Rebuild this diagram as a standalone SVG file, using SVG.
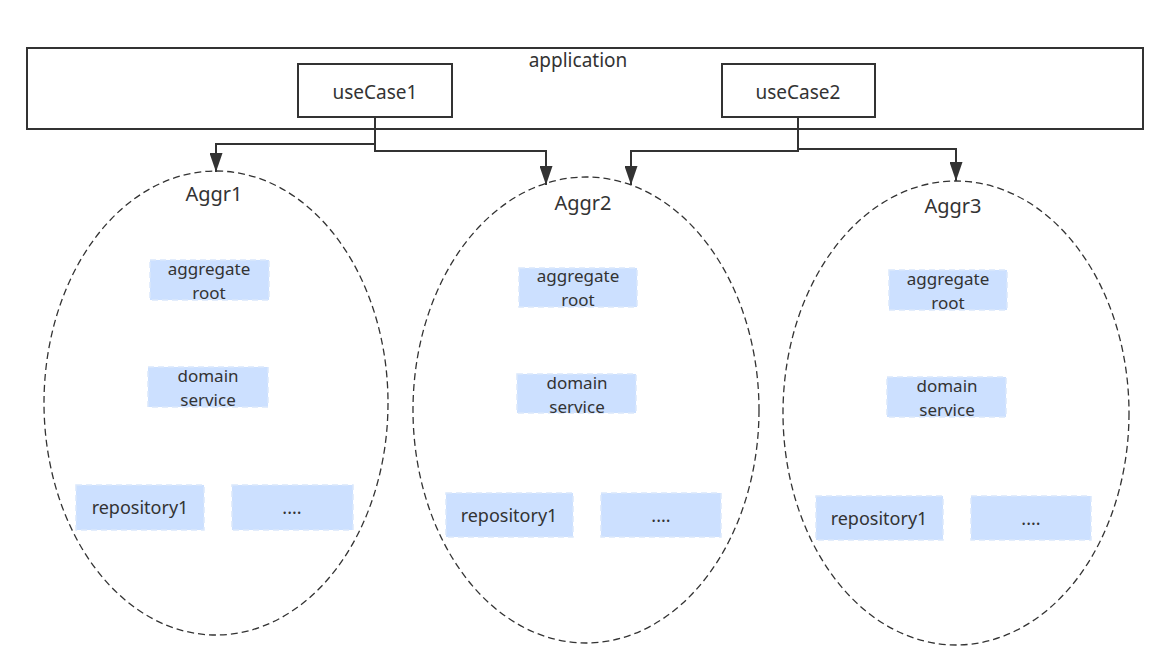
<svg xmlns="http://www.w3.org/2000/svg" width="1171" height="672" viewBox="0 0 1171 672">
<style>
  text { font-family: "Noto Sans", "Open Sans", sans-serif; fill: #333333; text-anchor: middle; }
  .frame { fill: #ffffff; stroke: #333333; stroke-width: 2; }
  .agg { fill: none; stroke: #333333; stroke-width: 1.3; stroke-dasharray: 7 4; }
  .box { fill: #cce0ff; stroke: #dae8fc; stroke-width: 1.5; stroke-dasharray: 6 4; }
  .lbl { font-size: 19px; }
  .alb { font-size: 20px; }
  .bt { font-size: 18px; }
  .bt2 { font-size: 17px; }
  .conn { fill: none; stroke: #333333; stroke-width: 2; }
</style>
<defs>
  <marker id="arr" markerUnits="userSpaceOnUse" viewBox="0 0 19 13" markerWidth="19" markerHeight="13" refX="19" refY="6.5" orient="auto">
    <polygon points="0,0 19,6.5 0,13" fill="#333333"/>
  </marker>
</defs>
<rect width="1171" height="672" fill="#ffffff"/>

<g id="application">
  <rect class="frame" x="27" y="48" width="1116" height="81"/>
  <text class="lbl" x="578" y="67">application</text>
</g>
<g id="useCase1">
  <rect class="frame" x="298" y="64" width="154" height="53"/>
  <text class="lbl" x="375" y="99">useCase1</text>
</g>
<g id="useCase2">
  <rect class="frame" x="722" y="64" width="153" height="53"/>
  <text class="lbl" x="798" y="99">useCase2</text>
</g>

<g id="Aggr1">
  <ellipse class="agg" cx="216" cy="403" rx="172" ry="232"/>
  <text class="alb" x="214" y="201">Aggr1</text>
  <rect class="box" x="150" y="260" width="119" height="40"/>
  <text class="bt2" x="209" y="275"><tspan x="209">aggregate</tspan><tspan x="209" dy="23.5">root</tspan></text>
  <rect class="box" x="148" y="367" width="120" height="40"/>
  <text class="bt2" x="208" y="382"><tspan x="208">domain</tspan><tspan x="208" dy="23.5">service</tspan></text>
  <rect class="box" x="76" y="485" width="128" height="45"/>
  <text class="bt" x="140" y="514">repository1</text>
  <rect class="box" x="232" y="485" width="121" height="45"/>
  <text class="bt" x="292" y="514">....</text>
</g>

<g id="Aggr2">
  <ellipse class="agg" cx="586" cy="410" rx="173" ry="233"/>
  <text class="alb" x="583" y="210">Aggr2</text>
  <rect class="box" x="519" y="268" width="118" height="39"/>
  <text class="bt2" x="578" y="282"><tspan x="578">aggregate</tspan><tspan x="578" dy="23.5">root</tspan></text>
  <rect class="box" x="517" y="374" width="119" height="39"/>
  <text class="bt2" x="577" y="389"><tspan x="577">domain</tspan><tspan x="577" dy="23.5">service</tspan></text>
  <rect class="box" x="446" y="493" width="127" height="44"/>
  <text class="bt" x="509" y="522">repository1</text>
  <rect class="box" x="601" y="493" width="120" height="44"/>
  <text class="bt" x="661" y="522">....</text>
</g>

<g id="Aggr3">
  <ellipse class="agg" cx="956" cy="413" rx="173" ry="232"/>
  <text class="alb" x="953" y="213">Aggr3</text>
  <rect class="box" x="889" y="270" width="118" height="40"/>
  <text class="bt2" x="948" y="285"><tspan x="948">aggregate</tspan><tspan x="948" dy="23.5">root</tspan></text>
  <rect class="box" x="887" y="377" width="119" height="40"/>
  <text class="bt2" x="947" y="392"><tspan x="947">domain</tspan><tspan x="947" dy="23.5">service</tspan></text>
  <rect class="box" x="816" y="496" width="127" height="44"/>
  <text class="bt" x="879" y="525">repository1</text>
  <rect class="box" x="971" y="496" width="120" height="44"/>
  <text class="bt" x="1031" y="525">....</text>
</g>

<g id="connectors">
  <path class="conn" d="M375,117 V144 H216 V172" marker-end="url(#arr)"/>
  <path class="conn" d="M375,117 V151 H546 V185" marker-end="url(#arr)"/>
  <path class="conn" d="M798,117 V151 H631 V185" marker-end="url(#arr)"/>
  <path class="conn" d="M798,117 V149 H956 V181" marker-end="url(#arr)"/>
</g>
</svg>
